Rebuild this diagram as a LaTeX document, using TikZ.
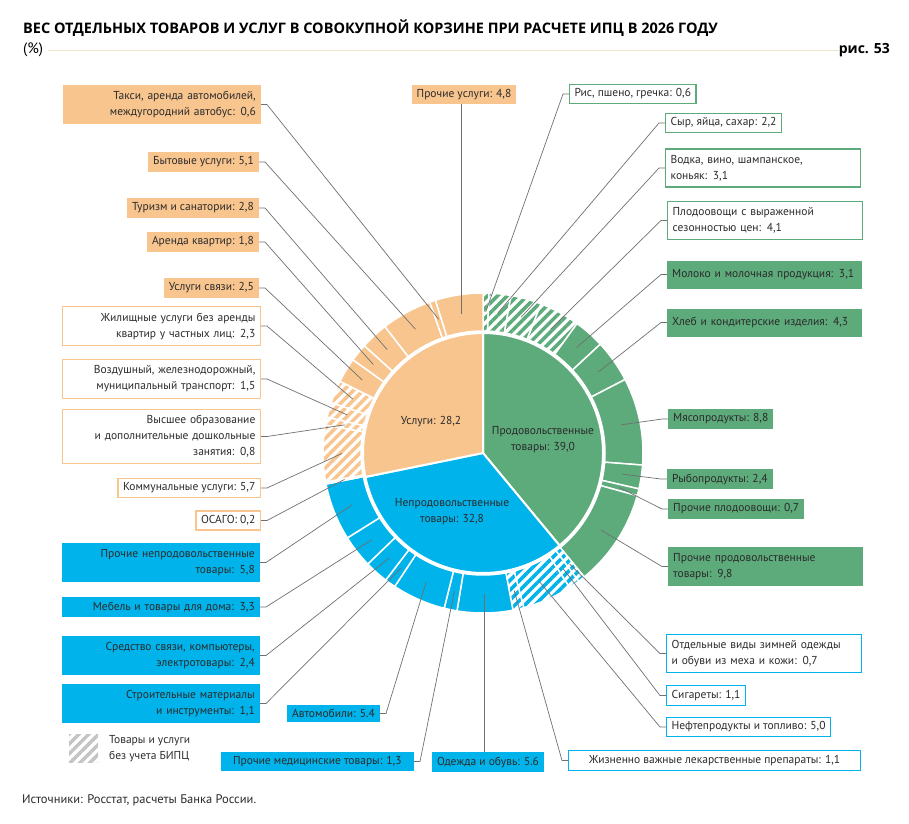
\documentclass[tikz,border=0pt]{standalone}
\usepackage{fontspec}
\setmainfont{PT Sans}
\newfontfamily\headfont{Open Sans}
\usetikzlibrary{patterns.meta}
\definecolor{cO}{HTML}{F8C58F}
\definecolor{cG}{HTML}{5DAA7B}
\definecolor{cB}{HTML}{00B3EA}
\definecolor{cLine}{HTML}{707070}
\definecolor{cTxt}{HTML}{2B2B2B}
\definecolor{cRule}{HTML}{EFE3CB}
\definecolor{cHatch}{HTML}{C4C4C4}

\begin{document}
\begin{tikzpicture}[x=1pt,y=-1pt,
    lead/.style={draw=cLine,line width=0.7pt},
    box/.style={inner xsep=5pt,inner ysep=4.5pt,font=\fontsize{11.5}{16}\selectfont,text=cTxt},
    lbox/.style={box,anchor=east,align=right},
    rbox/.style={box,anchor=west,align=left},
    wl/.style={text width=188pt,inner ysep=6pt},
    wr/.style={text width=185pt,inner ysep=6pt},
    obox/.style={fill=cO},owbox/.style={fill=white,draw=cO,line width=1.3pt},
    gbox/.style={fill=cG},gwbox/.style={fill=white,draw=cG,line width=1.3pt},
    bbox/.style={fill=cB},bwbox/.style={fill=white,draw=cB,line width=1.3pt},
    ofill/.style={fill=cO},gfill/.style={fill=cG},bfill/.style={fill=cB},
    ohatch/.style={pattern={Lines[angle=45,distance=7pt,line width=3.5pt]},pattern color=cO},
    ghatch/.style={pattern={Lines[angle=45,distance=7pt,line width=3.5pt]},pattern color=cG},
    bhatch/.style={pattern={Lines[angle=45,distance=7pt,line width=3.5pt]},pattern color=cB}]
\useasboundingbox (0,0) rectangle (909,823);

% header
\node[anchor=base west,inner sep=0,font=\headfont\bfseries\fontsize{14.5}{16}\selectfont,text=black] (title) at (23,33) {ВЕС ОТДЕЛЬНЫХ ТОВАРОВ И УСЛУГ В СОВОКУПНОЙ КОРЗИНЕ ПРИ РАСЧЕТЕ ИПЦ В 2026 ГОДУ};
\node[anchor=base west,inner sep=0,font=\fontsize{15}{17}\selectfont] (pct) at (23,53) {(\%)};
\node[anchor=base east,inner sep=0,font=\headfont\bfseries\fontsize{14}{16}\selectfont] (fig) at (890,53) {рис. 53};
\coordinate (rl) at (48,50);
\coordinate (rr) at (839,50);
\draw[cRule,line width=1pt] (rl) -- (rr);

% pie
\begin{scope}[shift={(483,453)},yscale=-1]
  \foreach \a/\b/\st in {90/-50.4/gfill,-50.4/-168.48/bfill,-168.48/-270/ofill}
    \path[\st,draw=white,line width=2pt] (0,0) -- (\a:120) arc[start angle=\a,end angle=\b,radius=120] -- cycle;
  \foreach \n/\v/\st [evaluate=\v as \e using {\s-3.6*\v},remember=\e as \s (initially 90)] in
    {1/0.6/ghatch,2/2.2/ghatch,3/3.1/ghatch,4/4.1/ghatch,5/3.1/gfill,6/4.3/gfill,7/8.8/gfill,
     8/2.4/gfill,9/0.7/gfill,10/9.8/gfill,
     11/0.7/bhatch,12/1.1/bhatch,13/5.0/bhatch,14/1.1/bhatch,15/5.6/bfill,16/1.3/bfill,
     17/5.4/bfill,18/1.1/bfill,19/2.4/bfill,20/3.3/bfill,21/5.8/bfill,
     22/0.2/ohatch,23/5.7/ohatch,24/0.8/ohatch,25/1.5/ohatch,26/2.3/ohatch,27/2.5/ofill,
     28/1.8/ofill,29/2.8/ofill,30/5.1/ofill,31/0.6/ofill,32/4.8/ofill}
  {
    \path[\st,draw=white,line width=1.5pt] (\s:122) arc[start angle=\s,end angle=\e,radius=122]
      -- (\e:160) arc[start angle=\e,end angle=\s,radius=160] -- cycle;
    \coordinate (s\n) at ({(\s+\e)/2}:141);
  }
\end{scope}
\node[box,align=center] (usl) at (431,422) {Услуги: 28,2};
\node[box,align=center] (prod) at (543,440) {Продовольственные\\товары: 39,0};
\node[box,align=center] (neprod) at (452,512) {Непродовольственные\\товары: 32,8};

% services
\node[box,obox] (32) at (464,94.5) {Прочие услуги: 4,8};
\node[lbox,obox,wl] (31) at (261,104.5) {Такси, аренда автомобилей,\\междугородний автобус: 0,6};
\node[lbox,obox] (30) at (259,162) {Бытовые услуги: 5,1};
\node[lbox,obox] (29) at (259,208) {Туризм и санатории: 2,8};
\node[lbox,obox] (28) at (259,242) {Аренда квартир: 1,8};
\node[lbox,obox] (27) at (259,288) {Услуги связи: 2,5};
\node[lbox,owbox,wl] (26) at (261,326) {Жилищные услуги без аренды\\квартир у частных лиц: 2,3};
\node[lbox,owbox,wl] (25) at (261,379) {Воздушный, железнодорожный,\\муниципальный транспорт: 1,5};
\node[lbox,owbox,wl] (24) at (261,436.5) {Высшее образование\\и дополнительные дошкольные\\занятия: 0,8};
\node[lbox,owbox] (23) at (261,488) {Коммунальные услуги: 5,7};
\node[lbox,owbox] (22) at (261,520.5) {ОСАГО: 0,2};

% non-food
\node[lbox,bbox,wl] (21) at (260,562.5) {Прочие непродовольственные\\товары: 5,8};
\node[lbox,bbox,wl,inner ysep=4.5pt] (20) at (260,607) {Мебель и товары для дома: 3,3};
\node[lbox,bbox,wl] (19) at (260,655.5) {Средство связи, компьютеры,\\электротовары: 2,4};
\node[lbox,bbox,wl] (18) at (260,703.5) {Строительные материалы\\и инструменты: 1,1};
\node[lbox,bbox] (17) at (380,713.5) {Автомобили: 5.4};
\node[lbox,bbox,minimum width=193pt] (16) at (414,761.5) {Прочие медицинские товары: 1,3};
\node[box,bbox] (15) at (488,762) {Одежда и обувь: 5.6};
\node[rbox,bwbox,minimum width=292pt] (14) at (568,760.5) {Жизненно важные лекарственные препараты: 1,1};
\node[rbox,bwbox] (13) at (666,727) {Нефтепродукты и топливо: 5,0};
\node[rbox,bwbox] (12) at (666,695.5) {Сигареты: 1,1};
\node[rbox,bwbox,wr] (11) at (666,653.5) {Отдельные виды зимней одежды\\и обуви из меха и кожи: 0,7};

% food
\node[rbox,gwbox] (1) at (569,94) {Рис, пшено, гречка: 0,6};
\node[rbox,gwbox] (2) at (665,123) {Сыр, яйца, сахар: 2,2};
\node[rbox,gwbox,wr] (3) at (665,168) {Водка, вино, шампанское,\\коньяк: 3,1};
\node[rbox,gwbox,wr] (4) at (667,220.5) {Плодоовощи с выраженной\\сезонностью цен: 4,1};
\node[rbox,gbox,wr,minimum height=28pt] (5) at (667,274.5) {Молоко и молочная продукция: 3,1};
\node[rbox,gbox,wr,minimum height=28pt] (6) at (667,322.5) {Хлеб и кондитерские изделия: 4,3};
\node[rbox,gbox] (7) at (668,419) {Мясопродукты: 8,8};
\node[rbox,gbox] (8) at (667,479) {Рыбопродукты: 2,4};
\node[rbox,gbox] (9) at (668,509) {Прочие плодоовощи: 0,7};
\node[rbox,gbox,wr] (10) at (668,566.5) {Прочие продовольственные\\товары: 9,8};

% leaders
\foreach \i in {16,...,31} \draw[lead] (\i.east) -- ++(6,0) -- (s\i);
\foreach \i in {1,...,14} \draw[lead] (\i.west) -- ++(-6,0) -- (s\i);
\draw[lead] (s15 |- 15.north) -- (s15);
\draw[lead] (s32 |- 32.south) -- (s32);

% legend and source
\path[pattern={Lines[angle=45,distance=7pt,line width=3.5pt]},pattern color=cHatch] (69,734) rectangle (98,762);
\node[box,anchor=west,align=left] (leg) at (104,748.5) {Товары и услуги\\без учета БИПЦ};
\node[anchor=base west,inner sep=0,font=\fontsize{12.5}{15}\selectfont,text=cTxt] (src) at (22,803) {Источники: Росстат, расчеты Банка России.};
\end{tikzpicture}
\end{document}
